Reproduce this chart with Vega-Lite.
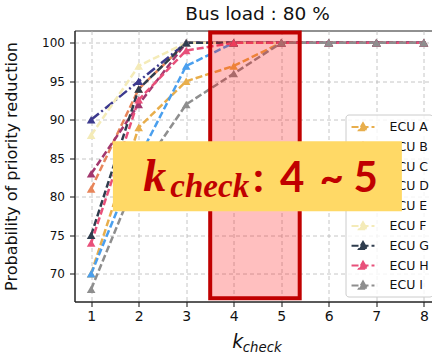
{
  "$schema": "https://vega.github.io/schema/vega-lite/v6.json",
  "autosize": {"type": "pad"},
  "padding": {"left": 2.5, "top": 4.5, "right": 0, "bottom": 0},
  "background": "white",
  "bounds": "flush",
  "align": "none",
  "spacing": -271,
  "config": {
    "font": "DejaVu Sans",
    "view": {"stroke": "#222222", "strokeWidth": 1}
  },
  "resolve": {
    "scale": {"x": "independent", "y": "independent", "color": "independent", "strokeDash": "independent"},
    "axis": {"x": "independent", "y": "independent"},
    "legend": {"color": "independent", "strokeDash": "independent"}
  },
  "vconcat": [
    {
      "width": 358,
      "height": 271,
      "title": {"text": "Bus load : 80 %", "fontSize": 18.5, "font": "DejaVu Sans", "fontWeight": "normal", "color": "#111111", "offset": 7, "dx": 4},
      "data": {"values": [
        {"ecu": "ECU A", "k": 1, "p": 70}, {"ecu": "ECU A", "k": 2, "p": 89}, {"ecu": "ECU A", "k": 3, "p": 95}, {"ecu": "ECU A", "k": 4, "p": 97}, {"ecu": "ECU A", "k": 5, "p": 100}, {"ecu": "ECU A", "k": 6, "p": 100}, {"ecu": "ECU A", "k": 7, "p": 100}, {"ecu": "ECU A", "k": 8, "p": 100},
        {"ecu": "ECU B", "k": 1, "p": 81}, {"ecu": "ECU B", "k": 2, "p": 94}, {"ecu": "ECU B", "k": 3, "p": 100}, {"ecu": "ECU B", "k": 4, "p": 100}, {"ecu": "ECU B", "k": 5, "p": 100}, {"ecu": "ECU B", "k": 6, "p": 100}, {"ecu": "ECU B", "k": 7, "p": 100}, {"ecu": "ECU B", "k": 8, "p": 100},
        {"ecu": "ECU C", "k": 1, "p": 70}, {"ecu": "ECU C", "k": 2, "p": 85}, {"ecu": "ECU C", "k": 3, "p": 97}, {"ecu": "ECU C", "k": 4, "p": 100}, {"ecu": "ECU C", "k": 5, "p": 100}, {"ecu": "ECU C", "k": 6, "p": 100}, {"ecu": "ECU C", "k": 7, "p": 100}, {"ecu": "ECU C", "k": 8, "p": 100},
        {"ecu": "ECU D", "k": 1, "p": 83}, {"ecu": "ECU D", "k": 2, "p": 92}, {"ecu": "ECU D", "k": 3, "p": 100}, {"ecu": "ECU D", "k": 4, "p": 100}, {"ecu": "ECU D", "k": 5, "p": 100}, {"ecu": "ECU D", "k": 6, "p": 100}, {"ecu": "ECU D", "k": 7, "p": 100}, {"ecu": "ECU D", "k": 8, "p": 100},
        {"ecu": "ECU E", "k": 1, "p": 90}, {"ecu": "ECU E", "k": 2, "p": 95}, {"ecu": "ECU E", "k": 3, "p": 100}, {"ecu": "ECU E", "k": 4, "p": 100}, {"ecu": "ECU E", "k": 5, "p": 100}, {"ecu": "ECU E", "k": 6, "p": 100}, {"ecu": "ECU E", "k": 7, "p": 100}, {"ecu": "ECU E", "k": 8, "p": 100},
        {"ecu": "ECU F", "k": 1, "p": 88}, {"ecu": "ECU F", "k": 2, "p": 97}, {"ecu": "ECU F", "k": 3, "p": 100}, {"ecu": "ECU F", "k": 4, "p": 100}, {"ecu": "ECU F", "k": 5, "p": 100}, {"ecu": "ECU F", "k": 6, "p": 100}, {"ecu": "ECU F", "k": 7, "p": 100}, {"ecu": "ECU F", "k": 8, "p": 100},
        {"ecu": "ECU G", "k": 1, "p": 75}, {"ecu": "ECU G", "k": 2, "p": 94}, {"ecu": "ECU G", "k": 3, "p": 100}, {"ecu": "ECU G", "k": 4, "p": 100}, {"ecu": "ECU G", "k": 5, "p": 100}, {"ecu": "ECU G", "k": 6, "p": 100}, {"ecu": "ECU G", "k": 7, "p": 100}, {"ecu": "ECU G", "k": 8, "p": 100},
        {"ecu": "ECU H", "k": 1, "p": 74}, {"ecu": "ECU H", "k": 2, "p": 92.6}, {"ecu": "ECU H", "k": 3, "p": 99}, {"ecu": "ECU H", "k": 4, "p": 100}, {"ecu": "ECU H", "k": 5, "p": 100}, {"ecu": "ECU H", "k": 6, "p": 100}, {"ecu": "ECU H", "k": 7, "p": 100}, {"ecu": "ECU H", "k": 8, "p": 100},
        {"ecu": "ECU I", "k": 1, "p": 68}, {"ecu": "ECU I", "k": 2, "p": 83}, {"ecu": "ECU I", "k": 3, "p": 92}, {"ecu": "ECU I", "k": 4, "p": 96}, {"ecu": "ECU I", "k": 5, "p": 100}, {"ecu": "ECU I", "k": 6, "p": 100}, {"ecu": "ECU I", "k": 7, "p": 100}, {"ecu": "ECU I", "k": 8, "p": 100}
      ]},
      "layer": [
        {
          "mark": {"type": "line", "strokeWidth": 2.5, "point": {"shape": "triangle-up", "size": 75, "filled": true, "opacity": 1}},
          "encoding": {
            "x": {"field": "k", "type": "quantitative",
              "scale": {"domain": [0.65, 8.182], "nice": false, "zero": false},
              "axis": {"values": [1, 2, 3, 4, 5, 6, 7, 8], "title": null, "format": "d",
                "labelFontSize": 14, "labelColor": "#111111", "labelPadding": 3, "labelFlush": false,
                "tickSize": 5, "tickColor": "#111111", "domainColor": "#222222",
                "grid": true, "gridColor": "#b8b8b8", "gridDash": [4, 3], "gridWidth": 0.8}},
            "y": {"field": "p", "type": "quantitative",
              "scale": {"domain": [66.4, 101.6], "nice": false, "zero": false},
              "axis": {"values": [70, 75, 80, 85, 90, 95, 100], "title": "Probability of priority reduction",
                "titleFontSize": 16, "titleFontWeight": "normal", "titleColor": "#111111", "titlePadding": 22,
                "labelFontSize": 12, "labelColor": "#111111", "labelPadding": 5,
                "tickSize": 5, "tickColor": "#111111", "domainColor": "#222222",
                "grid": true, "gridColor": "#b8b8b8", "gridDash": [4, 3], "gridWidth": 0.8}},
            "color": {"field": "ecu", "type": "nominal",
              "scale": {"domain": ["ECU A", "ECU B", "ECU C", "ECU D", "ECU E", "ECU F", "ECU G", "ECU H", "ECU I"],
                        "range": ["#E8AE4C", "#E8855A", "#4A9FEE", "#A3386E", "#3D3A8E", "#F4EBB8", "#2F3D4E", "#E8507A", "#8E8E8E"]},
              "legend": {"title": null, "orient": "none", "legendX": 271, "legendY": 84,
                "symbolType": "M-1.35,0H1.35M0,-0.45L0.48,0.38L-0.48,0.38Z",
                "symbolSize": 289, "symbolStrokeWidth": 2, "rowPadding": 2.8, "symbolOffset": 5, "symbolDash": [1, 0],
                "labelFontSize": 12.5, "labelColor": "#111111", "labelOffset": 17,
                "padding": 3, "fillColor": "rgba(255,255,255,0.8)", "strokeColor": "#cccccc", "cornerRadius": 3,
                "encode": {"symbols": {"update": {"fill": {"scale": "color", "field": "value"}, "strokeDash": {"value": [1, 0]}, "opacity": {"value": 1}}}}}},
            "strokeDash": {"field": "ecu", "type": "nominal",
              "scale": {"domain": ["ECU A", "ECU B", "ECU C", "ECU D", "ECU E", "ECU F", "ECU G", "ECU H", "ECU I"],
                        "range": [[7, 3], [7, 3], [7, 3], [7, 3], [10, 3, 2, 3], [7, 3], [7, 3], [7, 3], [7, 3]]},
              "legend": null}
          }
        },
        {
          "data": {"values": [{}]},
          "mark": {"type": "rect", "fill": "#ff0000", "fillOpacity": 0.25, "stroke": "#C00000", "strokeWidth": 4},
          "encoding": {"x": {"datum": 3.505}, "x2": {"datum": 5.388}, "y": {"datum": 66.83}, "y2": {"datum": 101.34}}
        },
        {
          "data": {"values": [{}]},
          "mark": {"type": "text", "text": "k", "font": "DejaVu Sans", "fontStyle": "italic", "fontSize": 19, "color": "#111111", "align": "left", "baseline": "alphabetic"},
          "encoding": {"x": {"datum": 3.968}, "y": {"datum": 60.42}}
        },
        {
          "data": {"values": [{}]},
          "mark": {"type": "text", "text": "check", "font": "DejaVu Sans", "fontStyle": "italic", "fontSize": 13.3, "color": "#111111", "align": "left", "baseline": "alphabetic"},
          "encoding": {"x": {"datum": 4.189}, "y": {"datum": 59.9}}
        }
      ]
    },
    {
      "width": 358,
      "height": 271,
      "view": {"stroke": null},
      "layer": [
        {
          "data": {"values": [{}]},
          "mark": {"type": "rect", "fill": "#FFD966"},
          "encoding": {
            "x": {"datum": 1.458, "type": "quantitative", "scale": {"domain": [0.65, 8.182], "nice": false, "zero": false}, "axis": null},
            "x2": {"datum": 7.538},
            "y": {"datum": 78.13, "type": "quantitative", "scale": {"domain": [66.4, 101.6], "nice": false, "zero": false}, "axis": null},
            "y2": {"datum": 87.22}}
        },
        {
          "data": {"values": [{}]},
          "mark": {"type": "text", "text": "k", "font": "Liberation Serif", "fontStyle": "italic", "fontWeight": "bold", "fontSize": 46, "color": "#C00000", "align": "center", "baseline": "alphabetic"},
          "encoding": {"x": {"datum": 2.337}, "y": {"datum": 80.69}}
        },
        {
          "data": {"values": [{}]},
          "mark": {"type": "text", "text": "check", "font": "Liberation Serif", "fontStyle": "italic", "fontWeight": "bold", "fontSize": 33, "color": "#C00000", "align": "center", "baseline": "alphabetic"},
          "encoding": {"x": {"datum": 3.495}, "y": {"datum": 79.91}}
        },
        {
          "data": {"values": [{}]},
          "mark": {"type": "text", "text": ":", "font": "Lato", "fontWeight": "bold", "fontSize": 42, "color": "#C00000", "align": "center", "baseline": "alphabetic"},
          "encoding": {"x": {"datum": 4.521}, "y": {"datum": 80.56}}
        },
        {
          "data": {"values": [{}]},
          "mark": {"type": "text", "text": "4", "font": "Lato", "fontWeight": "bold", "fontSize": 42, "color": "#C00000", "align": "center", "baseline": "alphabetic"},
          "encoding": {"x": {"datum": 5.23}, "y": {"datum": 80.56}}
        },
        {
          "data": {"values": [{}]},
          "mark": {"type": "text", "text": "~", "font": "Lato", "fontWeight": "bold", "fontSize": 42, "color": "#C00000", "align": "center", "baseline": "alphabetic"},
          "encoding": {"x": {"datum": 6.061}, "y": {"datum": 80.56}}
        },
        {
          "data": {"values": [{}]},
          "mark": {"type": "text", "text": "5", "font": "Lato", "fontWeight": "bold", "fontSize": 42, "color": "#C00000", "align": "center", "baseline": "alphabetic"},
          "encoding": {"x": {"datum": 6.777}, "y": {"datum": 80.56}}
        }
      ]
    }
  ]
}
